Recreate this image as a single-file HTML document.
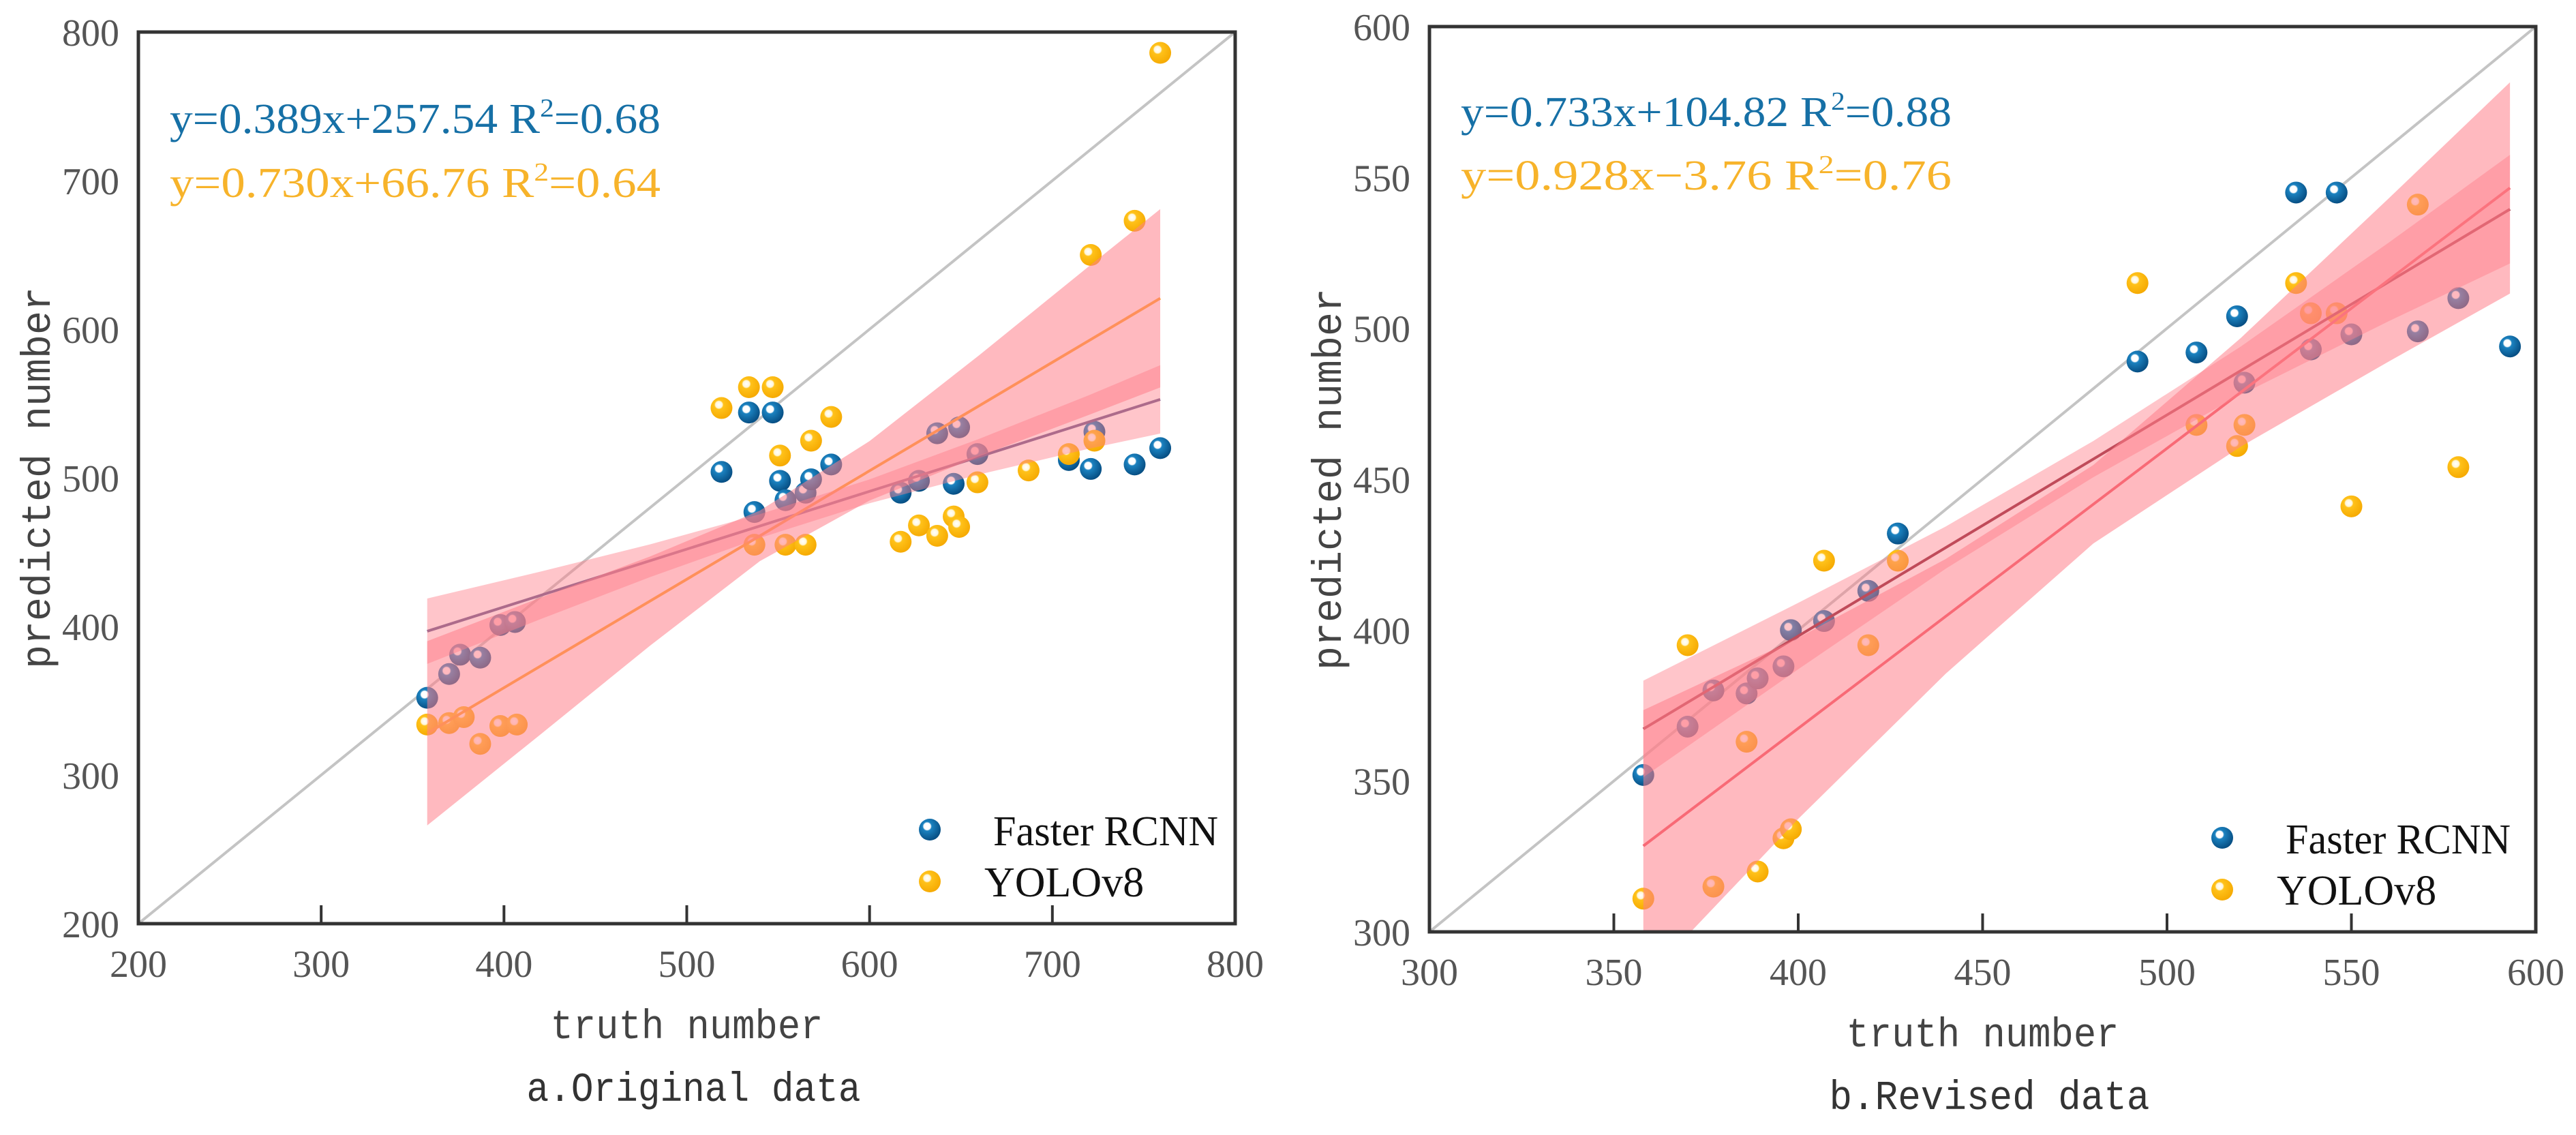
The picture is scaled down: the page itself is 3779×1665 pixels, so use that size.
<!DOCTYPE html>
<html><head><meta charset="utf-8"><style>
html,body{margin:0;padding:0;background:#fff;}
svg{display:block;}
</style></head><body>
<svg id="fig" xmlns="http://www.w3.org/2000/svg" width="3779" height="1665" viewBox="0 0 3779 1665">
<defs>
<radialGradient id="gBlue" cx="0.38" cy="0.35" r="0.7">
<stop offset="0" stop-color="#ffffff"/><stop offset="0.22" stop-color="#ffffff"/><stop offset="0.3" stop-color="#1b82c0"/><stop offset="1" stop-color="#054a7e"/>
</radialGradient>
<radialGradient id="gYel" cx="0.38" cy="0.35" r="0.7">
<stop offset="0" stop-color="#ffffff"/><stop offset="0.22" stop-color="#fff6d8"/><stop offset="0.3" stop-color="#ffc21a"/><stop offset="1" stop-color="#f5a800"/>
</radialGradient>
</defs>
</svg>
<script>
// ---- Chart A: Original data ----
const aRcnnX = [358,370,376,387,398,406,519,534,547,551,537,554,565,568,579,617,627,637,649,646,659,709,721,723,745,759];
const aRcnnY = [352,368,381,379,401,403,504,544,544,498,477,485,490,499,509,490,498,530,534,496,516,512,506,531,509,520];
const aYoloX = [358,370,378,387,398,407,519,534,547,551,568,579,537,554,565,617,627,637,646,649,659,687,709,723,721,745,759];
const aYoloY = [334,335,339,321,333,334,547,561,561,515,525,541,455,455,455,457,468,461,474,467,497,505,516,525,650,673,786];
const aTicks = [200,300,400,500,600,700,800];
const aBandX = [358,420,480,540,600,660,720,759];
const aYoloHalf = [62,46,30,17,20,34,50,60];
const aRcnnHalf = [22,16,11,8,8,12,18,23];
const aRcnnFit = [0.389,257.54];
const aYoloFit = [0.730,66.76];
// ---- Chart B: Revised data ----
const bRcnnX = [358,370,377,386,389,396,398,407,419,427,492,508,519,521,535,546,539,550,568,579,593];
const bRcnnY = [352,368,380,379,384,388,400,403,413,432,489,492,504,482,545,545,493,498,499,510,494];
const bYoloX = [358,370,377,386,389,396,398,407,419,427,492,508,519,521,535,539,546,550,568,579];
const bYoloY = [311,395,315,363,320,331,334,423,395,423,515,468,461,468,515,505,505,441,541,454];
const bTicks = [300,350,400,450,500,550,600];
const bBandX = [358,400,440,480,520,560,593];
const bYoloHalf = [45,30,19,13,18,27,35];
const bRcnnHalf = [16,11,7,6,8,13,18];
const bRcnnFit = [0.733,104.82];
const bYoloFit = [0.928,-3.76];

const NS = 'http://www.w3.org/2000/svg';
const svg = document.getElementById('fig');
function mk(tag, attrs, parent){
  const e = document.createElementNS(NS, tag);
  for (const k in attrs) e.setAttribute(k, attrs[k]);
  (parent||svg).appendChild(e);
  return e;
}

function drawChart(cfg){
  const g = mk('g', {});
  
  
  const sx = v => cfg.x0 + (v - cfg.dmin) / (cfg.dmax - cfg.dmin) * (cfg.x1 - cfg.x0);
  const sy = v => cfg.yb - (v - cfg.dmin) / (cfg.dmax - cfg.dmin) * (cfg.yb - cfg.yt);

  const cp = mk('clipPath', {id: cfg.name + '-clip'}, g);
  mk('rect', {x: cfg.x0, y: cfg.yt, width: cfg.x1 - cfg.x0, height: cfg.yb - cfg.yt}, cp);
  const plot = mk('g', {'clip-path': 'url(#' + cfg.name + '-clip)'}, g);

  const d = mk('line', {x1: sx(cfg.dmin), y1: sy(cfg.dmin), x2: sx(cfg.dmax), y2: sy(cfg.dmax), stroke: '#c4c4c4', 'stroke-width': 4}, plot);
  
  

  function pts(xs, ys, grad, nm){
    const pg = mk('g', {}, plot);
    
    
    xs.forEach((x, i) => {
      const c = mk('circle', {cx: sx(x), cy: sy(ys[i]), r: 16, fill: 'url(#' + grad + ')'}, pg);
      
      
    });
  }
  pts(cfg.rx, cfg.ry, 'gBlue', 'faster-rcnn-points');
  pts(cfg.yx, cfg.yy, 'gYel', 'yolov8-points');

  const xa = Math.min(...cfg.rx.concat(cfg.yx)), xb = Math.max(...cfg.rx.concat(cfg.yx));
  function fitLine(fit, color, nm){
    const l = mk('line', {x1: sx(xa), y1: sy(fit[0]*xa + fit[1]), x2: sx(xb), y2: sy(fit[0]*xb + fit[1]), stroke: color, 'stroke-width': 4}, plot);
    
    
  }
  fitLine(cfg.rfit, cfg.rLineColor, 'faster-rcnn-fit-line');
  fitLine(cfg.yfit, cfg.yLineColor, 'yolov8-fit-line');

  function band(fit, half, nm, op){
    let up = [], lo = [];
    cfg.bandX.forEach((x, i) => {
      const m = fit[0]*x + fit[1];
      up.push(sx(x) + ',' + sy(m + half[i]));
      lo.unshift(sx(x) + ',' + sy(m - half[i]));
    });
    const p = mk('polygon', {points: up.concat(lo).join(' '), fill: '#ff7f8a', 'fill-opacity': op}, plot);
    
    
  }
  band(cfg.yfit, cfg.yHalf, 'yolov8-confidence-band', 0.55);
  band(cfg.rfit, cfg.rHalf, 'faster-rcnn-confidence-band', 0.45);

  const fr = mk('rect', {x: cfg.x0, y: cfg.yt, width: cfg.x1 - cfg.x0, height: cfg.yb - cfg.yt, fill: 'none', stroke: '#333', 'stroke-width': 5}, g);
  
  

  cfg.ticks.forEach((t, i) => {
    const x = sx(t), y = sy(t);
    if (i > 0 && i < cfg.ticks.length - 1){
      const tk = mk('line', {x1: x, y1: cfg.yb, x2: x, y2: cfg.yb - 27, stroke: '#333', 'stroke-width': 4}, g);
      
      
    }
    const xl = mk('text', {x: x, y: cfg.yb + 78, 'text-anchor': 'middle', 'font-family': '"Liberation Serif", serif', 'font-size': 56, fill: '#555'}, g);
    xl.textContent = t;
    
    
    const yl = mk('text', {x: cfg.x0 - 28, y: y + 20, 'text-anchor': 'end', 'font-family': '"Liberation Serif", serif', 'font-size': 56, fill: '#555'}, g);
    yl.textContent = t;
    
    
  });

  function eq(txt, r2, y, color, nm){
    const t = mk('text', {x: cfg.x0 + 46, y: y, 'font-family': '"Liberation Serif", serif', 'font-size': 62, fill: color, textLength: 720, lengthAdjust: 'spacingAndGlyphs'}, g);
    
    
    const a = mk('tspan', {}, t); a.textContent = txt + ' R';
    const b = mk('tspan', {dy: -24, 'font-size': 38}, t); b.textContent = '2';
    const c = mk('tspan', {dy: 24}, t); c.textContent = '=' + r2;
  }
  eq(cfg.eqR, cfg.r2R, cfg.eqY1, '#1670a6', 'faster-rcnn-equation');
  eq(cfg.eqY, cfg.r2Y, cfg.eqY2, '#f7b32a', 'yolov8-equation');

  const lg = mk('g', {}, g);
  
  
  const lx = cfg.x1 - cfg.legOff;
  const c1 = mk('circle', {cx: lx, cy: cfg.yb - 138, r: 16, fill: 'url(#gBlue)'}, lg);
  
  
  const t1 = mk('text', {x: lx + 93, y: cfg.yb - 115, 'font-family': '"Liberation Serif", serif', 'font-size': 62, fill: '#111', textLength: 330, lengthAdjust: 'spacingAndGlyphs'}, lg);
  t1.textContent = 'Faster RCNN';
  
  
  const c2 = mk('circle', {cx: lx, cy: cfg.yb - 62, r: 16, fill: 'url(#gYel)'}, lg);
  
  
  const t2 = mk('text', {x: lx + 80, y: cfg.yb - 40, 'font-family': '"Liberation Serif", serif', 'font-size': 62, fill: '#111'}, lg);
  t2.textContent = 'YOLOv8';
  
  

  const cx = (cfg.x0 + cfg.x1) / 2;
  const xt = mk('text', {x: cx, y: cfg.yb + 168, 'text-anchor': 'middle', 'font-family': '"Liberation Mono", "Noto Serif CJK SC", monospace', 'font-size': 60, fill: '#444', textLength: 400, lengthAdjust: 'spacingAndGlyphs'}, g);
  xt.textContent = 'truth number';
  
  
  const cap = mk('text', {x: cx + 10, y: cfg.yb + 260, 'text-anchor': 'middle', 'font-family': '"Liberation Mono", "Noto Serif CJK SC", monospace', 'font-size': 60, fill: '#333', textLength: cfg.capLen, lengthAdjust: 'spacingAndGlyphs'}, g);
  cap.textContent = cfg.caption;
  
  
  const cy = (cfg.yt + cfg.yb) / 2;
  const yt = mk('text', {x: 0, y: 0, transform: 'translate(' + (cfg.x0 - 130) + ',' + cy + ') rotate(-90)', 'text-anchor': 'middle', 'font-family': '"Liberation Mono", "Noto Serif CJK SC", monospace', 'font-size': 60, fill: '#444', textLength: 560, lengthAdjust: 'spacingAndGlyphs'}, g);
  yt.textContent = 'predicted number';
  
  
}

drawChart({name: 'chart-original', x0: 203, x1: 1812, yt: 47, yb: 1355, dmin: 200, dmax: 800,
  rx: aRcnnX, ry: aRcnnY, yx: aYoloX, yy: aYoloY, ticks: aTicks, bandX: aBandX, yHalf: aYoloHalf, rHalf: aRcnnHalf,
  rfit: aRcnnFit, yfit: aYoloFit, rLineColor: '#6b5b8c', yLineColor: '#ffa41f',
  eqR: 'y=0.389x+257.54', r2R: '0.68', eqY: 'y=0.730x+66.76', r2Y: '0.64', eqY1: 195, eqY2: 289,
  caption: 'a.Original data', capLen: 490, legOff: 448});
drawChart({name: 'chart-revised', x0: 2097, x1: 3720, yt: 39, yb: 1367, dmin: 300, dmax: 600,
  rx: bRcnnX, ry: bRcnnY, yx: bYoloX, yy: bYoloY, ticks: bTicks, bandX: bBandX, yHalf: bYoloHalf, rHalf: bRcnnHalf,
  rfit: bRcnnFit, yfit: bYoloFit, rLineColor: '#8c2233', yLineColor: '#f0505e',
  eqR: 'y=0.733x+104.82', r2R: '0.88', eqY: 'y=0.928x\u22123.76', r2Y: '0.76', eqY1: 185, eqY2: 278,
  caption: 'b.Revised data', capLen: 470, legOff: 460});
</script>
</body></html>
